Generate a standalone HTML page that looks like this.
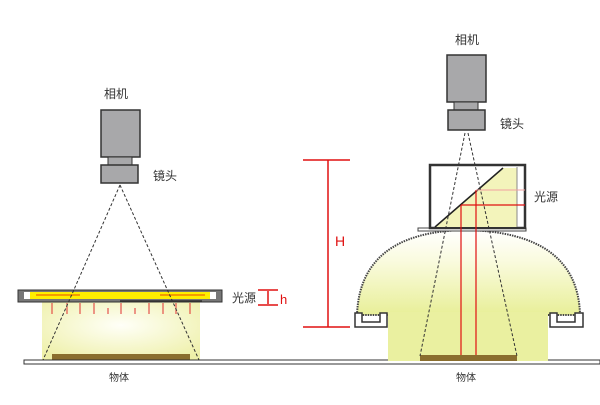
<!DOCTYPE html>
<html><head><meta charset="utf-8"><style>
body{margin:0;background:#fff}
text{font-family:"Liberation Sans","Noto Sans CJK SC",sans-serif}
</style></head><body>
<svg width="600" height="400" viewBox="0 0 600 400" xmlns="http://www.w3.org/2000/svg">
<defs>
<radialGradient id="g1" cx="0.5" cy="0.4" r="0.7"><stop offset="0" stop-color="#fffff8"/><stop offset="1" stop-color="#eef0a8"/></radialGradient>
<linearGradient id="g2" x1="0" y1="0" x2="0" y2="1"><stop offset="0" stop-color="#ffffff"/><stop offset="0.35" stop-color="#fafbe0"/><stop offset="1" stop-color="#e8ef98"/></linearGradient>
</defs>
<text x="104" y="98" font-size="12" fill="#333">相机</text>
<rect x="101" y="110" width="39" height="47" fill="#a8a8aa" stroke="#333" stroke-width="1.5"/>
<rect x="108" y="157" width="24" height="8" fill="#a8a8aa" stroke="#333"/>
<rect x="101" y="165" width="37" height="18" fill="#a8a8aa" stroke="#333" stroke-width="1.5"/>
<text x="153" y="180" font-size="12" fill="#333">镜头</text>
<rect x="42" y="302" width="158" height="58" fill="url(#g1)"/>
<rect x="52" y="354" width="138" height="6" fill="#8a6e2e"/>
<rect x="18" y="290" width="204" height="12" fill="#777" stroke="#333"/>
<rect x="30" y="292" width="180" height="7" fill="#ffee00"/>
<rect x="24" y="292" width="6" height="7" fill="#fff"/>
<rect x="210" y="292" width="6" height="7" fill="#fff"/>
<line x1="36" y1="295" x2="80" y2="295" stroke="#f08000" stroke-width="1.5"/>
<line x1="160" y1="295" x2="205" y2="295" stroke="#f08000" stroke-width="1.5"/>
<line x1="120" y1="301" x2="202" y2="301" stroke="#333" stroke-width="1.5"/>
<g stroke="#e03030" stroke-width="1">
<line x1="52" y1="303" x2="52" y2="314"/><line x1="67" y1="303" x2="67" y2="314"/><line x1="80" y1="303" x2="80" y2="314"/><line x1="94" y1="303" x2="94" y2="314"/><line x1="108" y1="308" x2="108" y2="314"/><line x1="121" y1="303" x2="121" y2="314"/><line x1="135" y1="308" x2="135" y2="314"/><line x1="149" y1="303" x2="149" y2="314"/><line x1="163" y1="303" x2="163" y2="314"/><line x1="176" y1="303" x2="176" y2="314"/><line x1="190" y1="303" x2="190" y2="314"/>
</g>
<g stroke="#333" stroke-dasharray="3,2" fill="none">
<line x1="120" y1="185" x2="43" y2="360"/><line x1="120" y1="185" x2="199" y2="360"/>
</g>
<text x="232" y="302" font-size="12" fill="#333">光源</text>
<g stroke="#e01010" stroke-width="1.5"><line x1="258" y1="290" x2="278" y2="290"/><line x1="258" y1="305" x2="278" y2="305"/><line x1="268" y1="291" x2="268" y2="304"/></g>
<text x="280" y="304" font-size="13" fill="#e01010">h</text>
<rect x="24" y="360" width="576" height="4" fill="#fff" stroke="#333"/>
<text x="109" y="381" font-size="10" fill="#333">物体</text>
<text x="456" y="381" font-size="10" fill="#333">物体</text>
<g stroke="#e01010" stroke-width="1.5"><line x1="303" y1="160" x2="350" y2="160"/><line x1="303" y1="327" x2="350" y2="327"/><line x1="328" y1="160" x2="328" y2="327"/></g>
<text x="335" y="246" font-size="14" fill="#e01010">H</text>
<text x="455" y="44" font-size="12" fill="#333">相机</text>
<rect x="447" y="55" width="39" height="47" fill="#a8a8aa" stroke="#333" stroke-width="1.5"/>
<rect x="454" y="102" width="24" height="8" fill="#a8a8aa" stroke="#333"/>
<rect x="448" y="110" width="37" height="20" fill="#a8a8aa" stroke="#333" stroke-width="1.5"/>
<text x="500" y="128" font-size="12" fill="#333">镜头</text>
<path d="M357,315 Q360,232 465,230 Q578,232 580,315 Z" fill="url(#g2)" stroke="#444" stroke-width="2" stroke-dasharray="1.5,1"/>
<rect x="388" y="312" width="160" height="49" fill="#eaf0a0"/>
<path d="M355,313 L362,313 L362,322 L380,322 L380,313 L387,313 L387,327 L355,327 Z" fill="#fff" stroke="#333" stroke-width="1.5"/>
<path d="M550,313 L557,313 L557,322 L575,322 L575,313 L583,313 L583,327 L550,327 Z" fill="#fff" stroke="#333" stroke-width="1.5"/>
<rect x="420" y="355" width="97" height="6" fill="#8a6e2e"/>
<rect x="418" y="228" width="108" height="3" fill="#fff" stroke="#444"/>
<rect x="430" y="165" width="95" height="63" fill="#fff" stroke="#333" stroke-width="2.5"/>
<path d="M435,227 L503,168 L517,168 L517,227 Z" fill="#f3f4bb"/>
<line x1="517" y1="167" x2="517" y2="227" stroke="#888"/>
<line x1="435" y1="227" x2="503" y2="168" stroke="#222" stroke-width="1.5"/>
<g stroke="#e01010" stroke-width="1.2"><line x1="461" y1="205" x2="525" y2="205" /><line x1="461" y1="205" x2="461" y2="355"/><line x1="476" y1="190" x2="476" y2="355"/></g>
<line x1="476" y1="190" x2="525" y2="190" stroke="#f0a0a0"/>
<g stroke="#333" stroke-dasharray="3,2" fill="none">
<line x1="465" y1="133" x2="420" y2="356"/><line x1="468" y1="133" x2="517" y2="356"/>
</g>
<text x="534" y="201" font-size="12" fill="#333">光源</text>
</svg>
</body></html>
